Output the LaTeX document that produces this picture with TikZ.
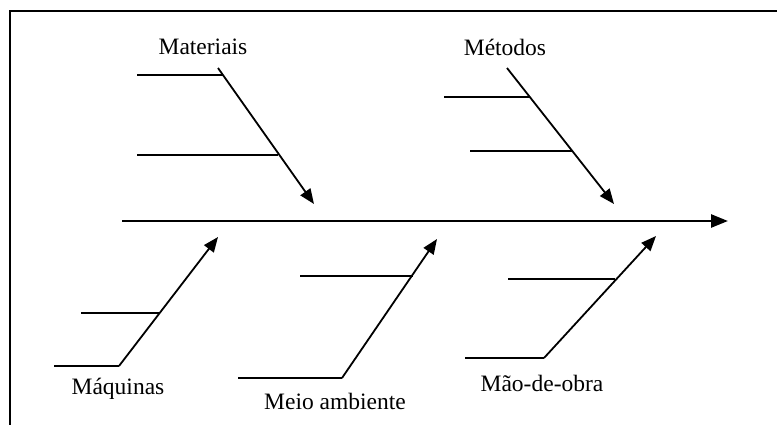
\documentclass[tikz,border=0pt]{standalone}
\usepackage{fontspec}
\setmainfont{Liberation Serif}
\usetikzlibrary{arrows.meta}
\begin{document}
\begin{tikzpicture}[x=1pt,y=-1pt,
  lbl/.style={font=\fontsize{23.5}{28}\selectfont, inner sep=0pt},
  bone/.style={line width=1.8pt, -{Triangle[length=15pt,width=12pt]}},
  rib/.style={line width=1.8pt},
  spine/.style={line width=2.6pt, -{Triangle[length=17pt,width=13pt]}},
  frame/.style={line width=2pt}]
\useasboundingbox (0,0) rectangle (777,425);
% frame (top and left only)
\draw[frame] (10,426) -- (10,11) -- (778,11);
% spine
\coordinate (s0) at (122,221);
\coordinate (s1) at (728,221);
\draw[spine] (s0) -- (s1);
% Materiais
\node[lbl] (mat) at (203,47) {Materiais};
\coordinate (m0) at (218,68);
\coordinate (m1) at (314,204);
\coordinate (ma) at (137,75);  \coordinate (mb) at (223,75);
\coordinate (mc) at (137,155); \coordinate (md) at (278,155);
\draw[bone] (m0) -- (m1);
\draw[rib] (ma) -- (mb);
\draw[rib] (mc) -- (md);
% Metodos
\node[lbl] (met) at (505,47) {Métodos};
\coordinate (t0) at (507,68);
\coordinate (t1) at (614,204);
\coordinate (ta) at (444,97);  \coordinate (tb) at (530,97);
\coordinate (tc) at (470,151); \coordinate (td) at (572,151);
\draw[bone] (t0) -- (t1);
\draw[rib] (ta) -- (tb);
\draw[rib] (tc) -- (td);
% Maquinas
\node[lbl] (maq) at (118,389) {Máquinas};
\coordinate (q0) at (119,366);
\coordinate (q1) at (218,237);
\coordinate (qa) at (54,366);  \coordinate (qc) at (81,313); \coordinate (qd) at (160,313);
\draw[rib] (qa) -- (q0);
\draw[bone] (q0) -- (q1);
\draw[rib] (qc) -- (qd);
% Meio ambiente
\node[lbl] (mei) at (335,401) {Meio ambiente};
\coordinate (e0) at (342,378);
\coordinate (e1) at (437,239);
\coordinate (ea) at (238,378); \coordinate (ec) at (300,276); \coordinate (ed) at (413,276);
\draw[rib] (ea) -- (e0);
\draw[bone] (e0) -- (e1);
\draw[rib] (ec) -- (ed);
% Mao-de-obra
\node[lbl] (mao) at (542,383) {Mão-de-obra};
\coordinate (o0) at (544,358);
\coordinate (o1) at (656,236);
\coordinate (oa) at (465,358); \coordinate (oc) at (508,279); \coordinate (od) at (615,279);
\draw[rib] (oa) -- (o0);
\draw[bone] (o0) -- (o1);
\draw[rib] (oc) -- (od);
\end{tikzpicture}
\end{document}
